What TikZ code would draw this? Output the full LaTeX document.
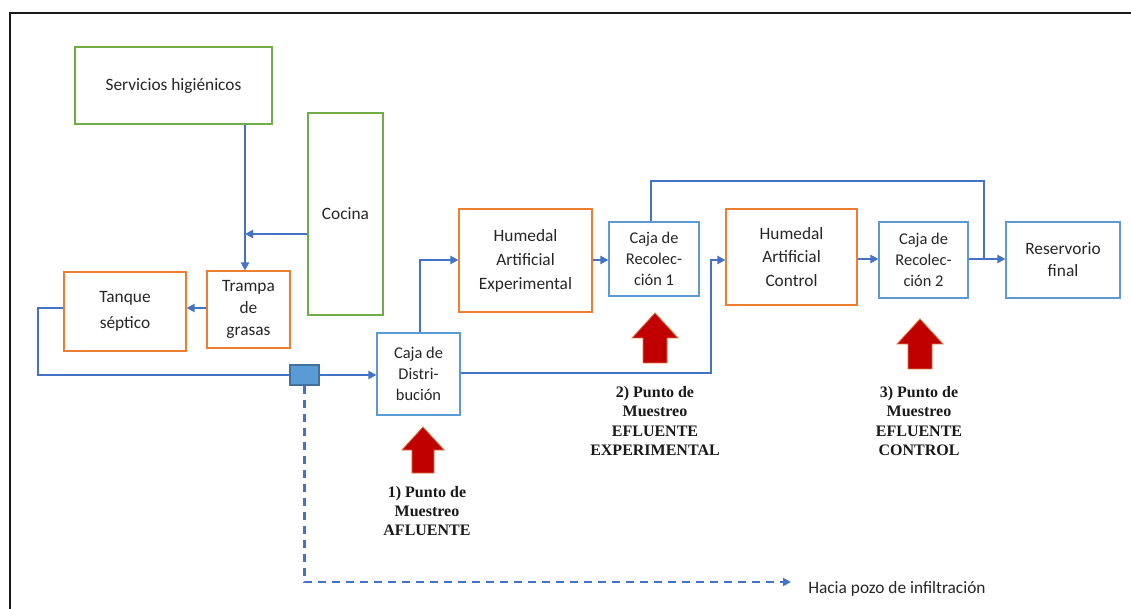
\documentclass[tikz,border=0pt]{standalone}
\usepackage{fontspec}
\setmainfont{Carlito}
\newfontfamily\tnr{Liberation Serif}
\usetikzlibrary{arrows.meta}
\definecolor{cgreen}{HTML}{70AD47}
\definecolor{corange}{HTML}{ED7D31}
\definecolor{clblue}{HTML}{5B9BD5}
\definecolor{cflow}{HTML}{4472C4}
\definecolor{cdark}{HTML}{41719C}
\definecolor{cred}{HTML}{C00000}
\definecolor{credge}{HTML}{D9773F}
\tikzset{
  box/.style 2 args={draw, line width=0.8pt, rectangle, inner sep=0pt, align=center,
    minimum width=#1*0.75pt, minimum height=#2*0.75pt, text=black!85},
  gbox/.style={draw=cgreen},
  obox/.style={draw=corange},
  bbox/.style={draw=clblue},
  fs13/.style={font=\fontsize{13}{18}\selectfont},
  fs13t/.style={font=\fontsize{13}{16.5}\selectfont},
  fs12/.style={font=\fontsize{12.3}{15.5}\selectfont},
  conn/.style={draw=cflow, line width=1.9pt},
  flow/.style={conn, -{Triangle[length=6pt,width=6pt]}},
  dflow/.style={draw=cflow, line width=1.6pt, dash pattern=on 6pt off 4.5pt, -{Triangle[length=6pt,width=6pt]}},
  lab/.style={align=center, text=black!90, font=\tnr\bfseries\fontsize{12}{14.5}\selectfont},
  redarr/.pic={\filldraw[fill=cred, draw=credge, line width=0.6pt]
     (-12,0) -- (12,0) -- (12,-25) -- (23,-25) -- (0,-50) -- (-23,-25) -- (-12,-25) -- cycle;}
}
\begin{document}
\begin{tikzpicture}[x=0.75pt,y=-0.75pt]
\useasboundingbox (0,0) rectangle (1131,609);
% frame
\draw[line width=1.6pt, black!90] (10,609) -- (10,13) -- (1131,13);

% boxes
\node[box={197}{77}, gbox, fs13] (serv) at (173.5,85.5) {Servicios higiénicos};
\node[box={75}{202}, gbox, fs13] (cocina) at (345.5,214) {Cocina};
\node[box={122}{79}, obox, fs13, font=\fontsize{13}{19}\selectfont] (tanque) at (125,311.5) {Tanque\\séptico};
\node[box={83}{77}, obox, fs13t] (trampa) at (248.5,309.5) {Trampa\\de\\grasas};
\node[box={83}{82}, bbox, fs12] (cajad) at (418.5,374) {Caja de\\Distri-\\bución};
\node[box={133}{103}, obox, fs13] (hae) at (525.5,260.5) {Humedal\\Artificial\\Experimental};
\node[box={90}{74}, bbox, fs12] (cr1) at (654,259) {Caja de\\Recolec-\\ción 1};
\node[box={131}{96}, obox, fs13, font=\fontsize{13}{17.3}\selectfont] (hac) at (791.5,257) {Humedal\\Artificial\\Control};
\node[box={89}{76}, bbox, fs12] (cr2) at (923.5,260) {Caja de\\Recolec-\\ción 2};
\node[box={114}{76}, bbox, fs13t] (res) at (1063,260) {Reservorio\\final};
\node[draw=cdark, fill=clblue, line width=0.8pt, inner sep=0pt, minimum width=29*0.75pt, minimum height=20*0.75pt] (sq) at (304.5,375) {};
\node[anchor=west, inner sep=0pt, fs13, text=black!85] (hacia) at (808,589) {Hacia pozo de infiltración};

% helper coordinates
\coordinate (j1) at (245,234);
\coordinate (c1) at (38,375);
\coordinate (c2) at (711,373);
\coordinate (c3) at (651,181);
\coordinate (c4) at (984,181);
\coordinate (d1) at (791,582);

% connectors
\draw[conn] (serv.south -| j1) -- (j1);
\draw[flow] (j1) -- (trampa.north -| j1);
\draw[flow] (cocina.west |- j1) -- (j1);
\draw[flow] (trampa.west |- 0,308) -- (tanque.east |- 0,308);
\draw[conn] (tanque.west |- 0,308) -| (c1) -- (sq.west);
\draw[flow] (sq.east) -- (cajad.west |- sq.east);
\draw[dflow] (sq.south) |- (d1);
\draw[flow] (cajad.north -| 420,0) |- (hae.west |- 0,260);
\draw[flow] (hae.east |- 0,260) -- (cr1.west |- 0,260);
\draw[flow] (cajad.east |- c2) -- (c2) -- (c2 |- 0,260) -- (hac.west |- 0,260);
\draw[flow] (hac.east |- 0,259) -- (cr2.west |- 0,259);
\draw[flow] (cr2.east |- 0,259) -- (res.west |- 0,259);
\draw[conn] (cr1.north -| c3) -- (c3) -- (c4) -- (c4 |- 0,259);

% red sampling arrows
\pic[scale=0.92] at (423,473) {redarr};
\pic at (655,363) {redarr};
\pic at (920,369) {redarr};

% labels
\node[lab] (lab1) at (427,511) {1) Punto de\\Muestreo\\AFLUENTE};
\node[lab] (lab2) at (655,421) {2) Punto de\\Muestreo\\EFLUENTE\\EXPERIMENTAL};
\node[lab] (lab3) at (919,421) {3) Punto de\\Muestreo\\EFLUENTE\\CONTROL};
\end{tikzpicture}
\end{document}
